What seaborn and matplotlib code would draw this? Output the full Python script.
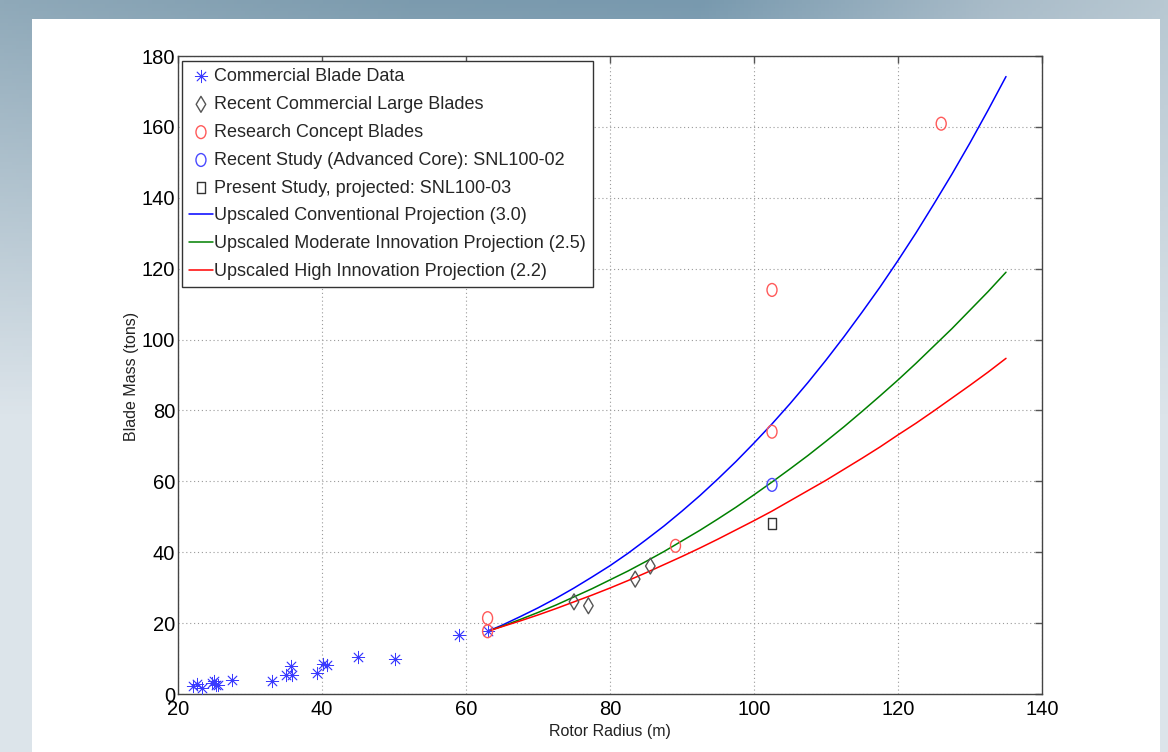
import numpy as np
import matplotlib
matplotlib.use("Agg")
import matplotlib.pyplot as plt
import seaborn as sns
from matplotlib.patches import Rectangle
from matplotlib.markers import MarkerStyle
from matplotlib.transforms import Affine2D

# ---------------- data ----------------
commercial_r = [22.1, 22.6, 23.4, 24.7, 25.0, 25.3, 25.6, 27.5, 33.1, 35.0, 35.7, 35.8,
                39.3, 40.2, 40.7, 45.0, 50.1, 59.0, 63.1]
commercial_m = [2.3, 2.8, 1.6, 3.0, 3.8, 2.4, 2.6, 4.0, 3.8, 5.5, 7.9, 5.5,
                6.0, 8.6, 8.3, 10.4, 9.9, 16.6, 17.9]

large_r = [75.0, 77.0, 83.5, 85.6]
large_m = [26.0, 24.9, 32.4, 36.1]

concept_r = [63.0, 63.0, 89.1, 102.5, 102.5, 126.0]
concept_m = [21.4, 17.7, 41.8, 74.0, 114.0, 160.9]

snl02_r = [102.5]
snl02_m = [59.0]

snl03_r = [102.5]
snl03_m = [48.0]

curve_r = [63, 65, 67.5, 70, 72.5, 75, 77.5, 80, 82.5, 85, 87.5, 90, 92.5, 95, 97.5,
           100, 102.5, 105, 107.5, 110, 112.5, 115, 117.5, 120, 122.5, 125, 127.5,
           130, 132.5, 135]
conv_m = [17.7, 19.4, 21.8, 24.3, 27.0, 29.9, 33.0, 36.2, 39.7, 43.5, 47.4, 51.6, 56.0,
          60.7, 65.6, 70.8, 76.2, 81.9, 87.9, 94.2, 100.8, 107.7, 114.8, 122.3, 130.1,
          138.3, 146.7, 155.5, 164.7, 174.2]
moder_m = [17.7, 19.1, 21.0, 23.0, 25.1, 27.4, 29.7, 32.2, 34.7, 37.4, 40.2, 43.2, 46.2,
           49.4, 52.7, 56.2, 59.8, 63.5, 67.3, 71.3, 75.4, 79.7, 84.1, 88.6, 93.3,
           98.2, 103.1, 108.3, 113.5, 119.0]
high_m = [17.7, 19.0, 20.6, 22.3, 24.1, 26.0, 27.9, 29.9, 32.0, 34.2, 36.5, 38.8, 41.2,
          43.7, 46.3, 48.9, 51.6, 54.5, 57.4, 60.3, 63.4, 66.5, 69.7, 73.1, 76.4,
          79.9, 83.5, 87.1, 90.8, 94.7]

x_ticks = [20, 40, 60, 80, 100, 120, 140]
y_ticks = [0, 20, 40, 60, 80, 100, 120, 140, 160, 180]

labels = ["Commercial Blade Data",
          "Recent Commercial Large Blades",
          "Research Concept Blades",
          "Recent Study (Advanced Core): SNL100-02",
          "Present Study, projected: SNL100-03",
          "Upscaled Conventional Projection (3.0)",
          "Upscaled Moderate Innovation Projection (2.5)",
          "Upscaled High Innovation Projection (2.2)"]

# ---------------- style ----------------
sns.set_style("white")
plt.rcParams["font.family"] = ["Liberation Sans", "DejaVu Sans"]

W, H = 1168, 752
fig = plt.figure(figsize=(W / 100, H / 100), dpi=100)

# slide-like gradient background
xs = np.linspace(0, 1, 300)
ys = np.linspace(0, 1, 200)
key_x = [0.0, 0.35, 0.6, 0.85, 1.0]
key_r = [0x8f, 0x7c, 0x78, 0xa8, 0xb8]
key_g = [0xa9, 0x9b, 0x99, 0xbb, 0xc8]
key_b = [0xb9, 0xae, 0xae, 0xc8, 0xd2]
top = np.stack([np.interp(xs, key_x, key_r), np.interp(xs, key_x, key_g),
                np.interp(xs, key_x, key_b)], axis=-1) / 255.0
bottom = np.array([0xdc, 0xe4, 0xea]) / 255.0
t = np.clip(ys / 0.55, 0, 1)[:, None, None]
grad = top[None, :, :] * (1 - t) + bottom[None, None, :] * t
bg = fig.add_axes([0, 0, 1, 1], zorder=-10)
bg.imshow(grad, aspect="auto", extent=[0, 1, 0, 1], origin="upper")
bg.set_axis_off()

fig.patches.append(Rectangle((32 / W, 0), (1160 - 32) / W, (H - 19) / H,
                             transform=fig.transFigure, facecolor="white",
                             edgecolor="none", zorder=-5))

ax = fig.add_axes([178 / W, 1 - 694 / H, (1042 - 178) / W, (694 - 56) / H])
ax.set_facecolor("white")

h_conv = sns.lineplot(x=curve_r, y=conv_m, color="#0000ff", lw=1.1, ax=ax,
                      estimator=None, sort=False, label=labels[5]).lines[-1]
h_mod = sns.lineplot(x=curve_r, y=moder_m, color="#008000", lw=1.1, ax=ax,
                     estimator=None, sort=False, label=labels[6]).lines[-1]
h_high = sns.lineplot(x=curve_r, y=high_m, color="#ff0000", lw=1.1, ax=ax,
                      estimator=None, sort=False, label=labels[7]).lines[-1]

ell = MarkerStyle("o", transform=Affine2D().scale(0.78, 1.0))
sq = MarkerStyle("s", transform=Affine2D().scale(0.78, 1.0))

sns.scatterplot(x=commercial_r, y=commercial_m, marker=(8, 2, 0), s=80,
                color="#3a3aff", linewidth=0.6, ax=ax, label=labels[0], zorder=3)
h_com = ax.collections[-1]
sns.scatterplot(x=large_r, y=large_m, marker="d", s=66,
                facecolor="none", edgecolor="#555555", linewidth=1.0, ax=ax,
                label=labels[1], zorder=3)
h_large = ax.collections[-1]
sns.scatterplot(x=concept_r, y=concept_m, marker=ell, s=85,
                facecolor="none", edgecolor="#ff5a5a", linewidth=1.0, ax=ax,
                label=labels[2], zorder=3)
h_con = ax.collections[-1]
sns.scatterplot(x=snl02_r, y=snl02_m, marker=ell, s=85,
                facecolor="none", edgecolor="#4a4aff", linewidth=1.0, ax=ax,
                label=labels[3], zorder=3)
h_02 = ax.collections[-1]
sns.scatterplot(x=snl03_r, y=snl03_m, marker=sq, s=60,
                facecolor="none", edgecolor="#333333", linewidth=1.0, ax=ax,
                label=labels[4], zorder=3)
h_03 = ax.collections[-1]

ax.set_xlim(20, 140)
ax.set_ylim(0, 180)
ax.set_xticks(x_ticks)
ax.set_yticks(y_ticks)
ax.grid(True, color="#9a9a9a", linestyle=(0, (1, 2.5)), linewidth=0.8)
for s in ax.spines.values():
    s.set_color("#444444")
    s.set_linewidth(1.0)
    s.set_visible(True)
ax.tick_params(direction="in", top=True, right=True, length=5, width=1,
               color="#555555", labelsize=14.5, labelcolor="black")
ax.tick_params(axis="y", pad=2)
ax.tick_params(axis="x", pad=4)

ax.set_xlabel("Rotor Radius (m)", fontsize=11.5, color="#222222", labelpad=4)
ax.set_ylabel("Blade Mass (tons)", fontsize=11.5, color="#222222")
ax.yaxis.set_label_coords((139 - 178) / 864, 0.4977)

leg = ax.legend([h_com, h_large, h_con, h_02, h_03, h_conv, h_mod, h_high], labels,
                loc="upper left", bbox_to_anchor=((182 - 178) / 864, (694 - 61) / 638),
                borderaxespad=0, fontsize=13, frameon=True, fancybox=False,
                framealpha=1, edgecolor="#333333", handlelength=1.3,
                handletextpad=0.1, labelspacing=0.6, borderpad=0.4)
leg.get_frame().set_linewidth(1.0)
leg.set_zorder(10)

fig.savefig("out.png", dpi=100)
